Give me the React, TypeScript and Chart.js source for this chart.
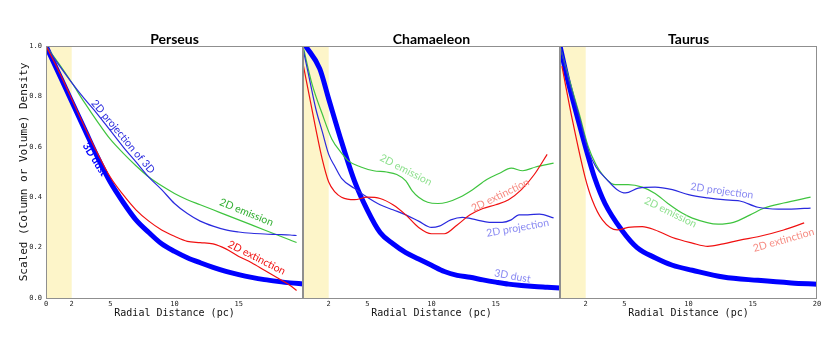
import React, { useEffect, useRef } from 'react';
import { Chart, registerables } from 'chart.js';
Chart.register(...registerables);

// ---------- shared axis content ----------
const TICKS_X = [0, 2, 5, 10, 15, 20];
const TICKS_Y = [0, 0.2, 0.4, 0.6, 0.8, 1.0];
const PANEL_TITLES = ['Perseus', 'Chamaeleon', 'Taurus'];
const X_TITLE = 'Radial Distance (pc)';
const Y_TITLE = 'Scaled (Column or Volume) Density';

// ---------- Perseus ----------
const perDustX = [0, 1, 2, 3, 4, 5, 6, 7, 8, 9, 10, 11, 12, 13, 14, 15, 16, 17, 18, 19, 20];
const perDustY = [1.0, 0.89, 0.78, 0.67, 0.56, 0.46, 0.38, 0.31, 0.26, 0.215, 0.185, 0.16, 0.14, 0.122, 0.106, 0.093, 0.082, 0.073, 0.066, 0.06, 0.056];
const perExtX = [0, 1, 2, 3, 4, 5, 6, 7, 8, 9, 10, 11, 12, 13, 14, 15, 16, 17, 18, 19, 19.5];
const perExtY = [1.0, 0.9, 0.79, 0.68, 0.575, 0.48, 0.41, 0.35, 0.305, 0.27, 0.245, 0.225, 0.22, 0.215, 0.195, 0.165, 0.14, 0.11, 0.08, 0.05, 0.03];
const perProjX = [0, 1, 2, 3, 4, 5, 6, 7, 8, 9, 10, 11, 12, 13, 14, 15, 16, 17, 18, 19, 19.5];
const perProjY = [1.0, 0.925, 0.855, 0.79, 0.73, 0.665, 0.6, 0.54, 0.48, 0.43, 0.375, 0.335, 0.305, 0.285, 0.27, 0.262, 0.257, 0.254, 0.252, 0.25, 0.248];
const perEmX = [0, 1, 2, 3, 4, 5, 6, 7, 8, 9, 10, 11, 12, 13, 14, 15, 16, 17, 18, 19, 19.5];
const perEmY = [1.0, 0.93, 0.855, 0.775, 0.7, 0.63, 0.575, 0.525, 0.48, 0.445, 0.415, 0.39, 0.37, 0.35, 0.33, 0.31, 0.29, 0.27, 0.25, 0.23, 0.22];

// ---------- Chamaeleon ----------
const chaDustX = [0.2, 1.3, 2, 3, 4, 5, 6, 7, 8, 9, 10, 11, 12, 13, 14, 15, 16, 17, 18, 19, 20];
const chaDustY = [1.0, 0.91, 0.79, 0.62, 0.465, 0.35, 0.26, 0.215, 0.18, 0.155, 0.13, 0.105, 0.09, 0.082, 0.072, 0.063, 0.055, 0.05, 0.046, 0.043, 0.04];
const chaExtX = [0, 0.5, 1, 1.5, 2, 2.5, 3, 4, 5, 6, 7, 8, 9, 10, 11, 12, 13, 14, 15, 16, 17, 18, 19];
const chaExtY = [0.93, 0.8, 0.67, 0.55, 0.46, 0.42, 0.4, 0.39, 0.4, 0.395, 0.37, 0.33, 0.28, 0.255, 0.255, 0.29, 0.33, 0.355, 0.37, 0.39, 0.43, 0.49, 0.57];
const chaProjX = [0, 0.5, 1, 1.5, 2, 2.5, 3, 4, 5, 6, 7, 8, 9, 10, 10.6, 11.5, 12.4, 13.5, 14.5, 15.5, 16.2, 16.8, 17.5, 18.4, 19.5];
const chaProjY = [0.99, 0.87, 0.75, 0.66, 0.57, 0.52, 0.475, 0.435, 0.4, 0.37, 0.35, 0.33, 0.305, 0.28, 0.285, 0.31, 0.32, 0.31, 0.3, 0.3, 0.31, 0.33, 0.33, 0.333, 0.318];
const chaEmX = [0, 0.7, 1.5, 2.25, 3, 3.5, 4.5, 5.5, 6.5, 7.3, 8, 8.5, 9, 9.7, 10.5, 11.2, 12.2, 13.2, 14.3, 15.3, 16.2, 17.1, 18.1, 19.5];
const chaEmY = [1.0, 0.85, 0.73, 0.63, 0.575, 0.545, 0.52, 0.505, 0.5, 0.49, 0.465, 0.425, 0.4, 0.38, 0.375, 0.38, 0.4, 0.43, 0.47, 0.495, 0.515, 0.505, 0.52, 0.535];

// ---------- Taurus ----------
const tauDustX = [0, 0.6, 1.5, 2.2, 2.7, 3.5, 4.8, 6, 7.4, 8.75, 10.3, 12.7, 15.4, 18, 20];
const tauDustY = [1.0, 0.865, 0.69, 0.56, 0.476, 0.375, 0.27, 0.2, 0.16, 0.13, 0.11, 0.083, 0.07, 0.06, 0.055];
const tauExtX = [0.15, 0.95, 1.95, 2.5, 3.3, 4.45, 5.3, 6.4, 7.4, 8.75, 10.3, 11.5, 12.7, 14, 15.4, 17.4, 19];
const tauExtY = [0.92, 0.71, 0.48, 0.39, 0.31, 0.27, 0.28, 0.283, 0.27, 0.24, 0.218, 0.205, 0.215, 0.23, 0.243, 0.27, 0.298];
const tauProjX = [0, 0.7, 1.5, 2.2, 2.8, 3.65, 4.45, 5.1, 6.1, 7.4, 8.75, 10, 11.5, 12.7, 14, 15.4, 17, 18, 19.5];
const tauProjY = [1.0, 0.86, 0.72, 0.585, 0.52, 0.47, 0.43, 0.417, 0.436, 0.44, 0.43, 0.41, 0.397, 0.39, 0.385, 0.36, 0.353, 0.353, 0.357];
const tauEmX = [0, 0.7, 1.5, 2.2, 2.8, 3.65, 4.3, 5.3, 6.4, 7.4, 8.4, 9.5, 10.3, 12.3, 13.5, 14.8, 15.9, 17.4, 19.5];
const tauEmY = [1.0, 0.87, 0.73, 0.6, 0.53, 0.47, 0.45, 0.45, 0.44, 0.415, 0.375, 0.337, 0.317, 0.293, 0.3, 0.33, 0.357, 0.377, 0.4];

// ---------- styles ----------
const BLUE = '#0000ff';
const THIN_BLUE = '#2a2ade';
const GREEN = '#3fc43f';
const RED = '#f01010';
const FADE_BLUE = '#8a8af2';
const FADE_GREEN = '#8ee08e';
const FADE_RED = '#f68b82';
const BAND = '#fdf5c9';
const FRAME = '#8f8f8f';
const MONO = '"DejaVu Sans Mono", monospace';
const SANS = 'Lato, "Open Sans", sans-serif';

const W = 830;
const H = 344;
const TOP = 46;
const BOTTOM = 298;

type Note = { text: string; x: number; y: number; angle: number; color: string; bold?: boolean };

const pts = (xs: number[], ys: number[]) => xs.map((x, i) => ({ x, y: ys[i] }));

const PANELS = [
  {
    left: 46, right: 303, hide: [20], yLabels: true,
    series: [
      { x: perDustX, y: perDustY, color: BLUE, width: 5, order: 4 },
      { x: perEmX, y: perEmY, color: GREEN, width: 1.2, order: 3 },
      { x: perProjX, y: perProjY, color: THIN_BLUE, width: 1.2, order: 2 },
      { x: perExtX, y: perExtY, color: RED, width: 1.2, order: 1 },
    ],
    notes: [
      { text: '2D projection of 3D', x: 6.0, y: 0.64, angle: 50, color: THIN_BLUE },
      { text: '3D dust', x: 3.8, y: 0.55, angle: 58, color: BLUE, bold: true },
      { text: '2D emission', x: 15.6, y: 0.34, angle: 22, color: '#2fae2f' },
      { text: '2D extinction', x: 16.4, y: 0.16, angle: 27, color: RED },
    ] as Note[],
  },
  {
    left: 303, right: 560, hide: [0, 20], yLabels: false,
    series: [
      { x: chaDustX, y: chaDustY, color: BLUE, width: 5, order: 4 },
      { x: chaEmX, y: chaEmY, color: GREEN, width: 1.2, order: 3 },
      { x: chaProjX, y: chaProjY, color: THIN_BLUE, width: 1.2, order: 2 },
      { x: chaExtX, y: chaExtY, color: RED, width: 1.2, order: 1 },
    ],
    notes: [
      { text: '2D emission', x: 8.0, y: 0.508, angle: 27, color: FADE_GREEN },
      { text: '2D extinction', x: 15.35, y: 0.408, angle: -26, color: FADE_RED },
      { text: '2D projection', x: 16.7, y: 0.278, angle: -10, color: FADE_BLUE },
      { text: '3D dust', x: 16.3, y: 0.087, angle: 10, color: FADE_BLUE },
    ] as Note[],
  },
  {
    left: 560, right: 817, hide: [0], yLabels: false,
    series: [
      { x: tauDustX, y: tauDustY, color: BLUE, width: 5, order: 4 },
      { x: tauEmX, y: tauEmY, color: GREEN, width: 1.2, order: 3 },
      { x: tauProjX, y: tauProjY, color: THIN_BLUE, width: 1.2, order: 2 },
      { x: tauExtX, y: tauExtY, color: RED, width: 1.2, order: 1 },
    ],
    notes: [
      { text: '2D projection', x: 12.6, y: 0.425, angle: 8, color: FADE_BLUE },
      { text: '2D emission', x: 8.6, y: 0.34, angle: 26, color: FADE_GREEN },
      { text: '2D extinction', x: 17.4, y: 0.23, angle: -16, color: FADE_RED },
    ] as Note[],
  },
];

function makeChart(canvas: HTMLCanvasElement, p: typeof PANELS[number], title: string) {
  const decor = {
    id: 'decor',
    beforeDatasetsDraw(chart: any) {
      const { ctx, chartArea: a, scales } = chart;
      const x0 = scales.x.getPixelForValue(0);
      const x1 = scales.x.getPixelForValue(2);
      ctx.save();
      ctx.fillStyle = BAND;
      ctx.fillRect(x0, a.top, x1 - x0, a.bottom - a.top);
      ctx.restore();
    },
    afterDraw(chart: any) {
      const { ctx, chartArea: a, scales } = chart;
      ctx.save();
      // frame
      ctx.strokeStyle = FRAME;
      ctx.lineWidth = 1;
      ctx.strokeRect(a.left + 0.5, a.top + 0.5, a.right - a.left - 1, a.bottom - a.top);
      // annotations
      for (const n of p.notes) {
        const px = scales.x.getPixelForValue(n.x);
        const py = scales.y.getPixelForValue(n.y);
        ctx.save();
        ctx.translate(px, py);
        ctx.rotate((n.angle * Math.PI) / 180);
        ctx.fillStyle = n.color;
        ctx.font = `${n.bold ? 'bold ' : ''}10.5px ${SANS}`;
        ctx.textAlign = 'center';
        ctx.textBaseline = 'middle';
        ctx.fillText(n.text, 0, 0);
        ctx.restore();
      }
      // panel title
      const cx = (a.left + a.right) / 2;
      ctx.fillStyle = '#000';
      ctx.font = `bold 14px ${SANS}`;
      ctx.textAlign = 'center';
      ctx.textBaseline = 'middle';
      ctx.fillText(title, cx, 39);
      // x title
      ctx.font = `10px ${MONO}`;
      ctx.fillStyle = '#111';
      ctx.fillText(X_TITLE, cx, 313);
      // y title
      if (p.yLabels) {
        ctx.save();
        ctx.translate(24, (a.top + a.bottom) / 2);
        ctx.rotate(-Math.PI / 2);
        ctx.font = `11px ${MONO}`;
        ctx.fillText(Y_TITLE, 0, 0);
        ctx.restore();
      }
      ctx.restore();
    },
  };

  return new Chart(canvas, {
    type: 'line',
    data: {
      datasets: p.series.map((s) => ({
        data: pts(s.x, s.y),
        borderColor: s.color,
        borderWidth: s.width,
        pointRadius: 0,
        fill: false,
        order: s.order,
        cubicInterpolationMode: 'monotone' as const,
      })),
    },
    options: {
      responsive: false,
      animation: false,
      devicePixelRatio: 1,
      layout: { padding: { left: 0, right: W - p.right, top: TOP, bottom: 0 } },
      plugins: { legend: { display: false }, title: { display: false }, tooltip: { enabled: false } },
      scales: {
        x: {
          type: 'linear',
          min: 0,
          max: 20,
          grid: { display: false, drawTicks: false },
          border: { display: false },
          afterBuildTicks: (scale: any) => {
            scale.ticks = TICKS_X.map((v) => ({ value: v }));
          },
          afterFit: (scale: any) => {
            scale.height = H - BOTTOM;
          },
          ticks: {
            padding: 2,
            autoSkip: false,
            maxRotation: 0,
            color: '#222',
            font: { family: MONO, size: 7 },
            callback: (v: any) => (p.hide.includes(Number(v)) ? '' : String(v)),
          },
        },
        y: {
          type: 'linear',
          min: 0,
          max: 1,
          grid: { display: false, drawTicks: false },
          border: { display: false },
          afterBuildTicks: (scale: any) => {
            scale.ticks = TICKS_Y.map((v) => ({ value: v }));
          },
          afterFit: (scale: any) => {
            scale.width = p.left;
          },
          ticks: {
            display: p.yLabels,
            padding: 4,
            color: '#222',
            font: { family: MONO, size: 7 },
            callback: (v: any) => Number(v).toFixed(1),
          },
        },
      },
    },
    plugins: [decor],
  } as any);
}

function Panel({ idx }: { idx: number }) {
  const ref = useRef<HTMLCanvasElement>(null);
  useEffect(() => {
    if (!ref.current) return;
    const chart = makeChart(ref.current, PANELS[idx], PANEL_TITLES[idx]);
    return () => chart.destroy();
  }, [idx]);
  return (
    <canvas
      ref={ref}
      width={W}
      height={H}
      style={{ position: 'absolute', left: 0, top: 0, width: W, height: H }}
    />
  );
}

export default function App() {
  return (
    <div style={{ position: 'absolute', left: 0, top: 0, width: W, height: H, background: '#fff' }}>
      {PANELS.map((_, i) => (
        <Panel key={i} idx={i} />
      ))}
    </div>
  );
}
